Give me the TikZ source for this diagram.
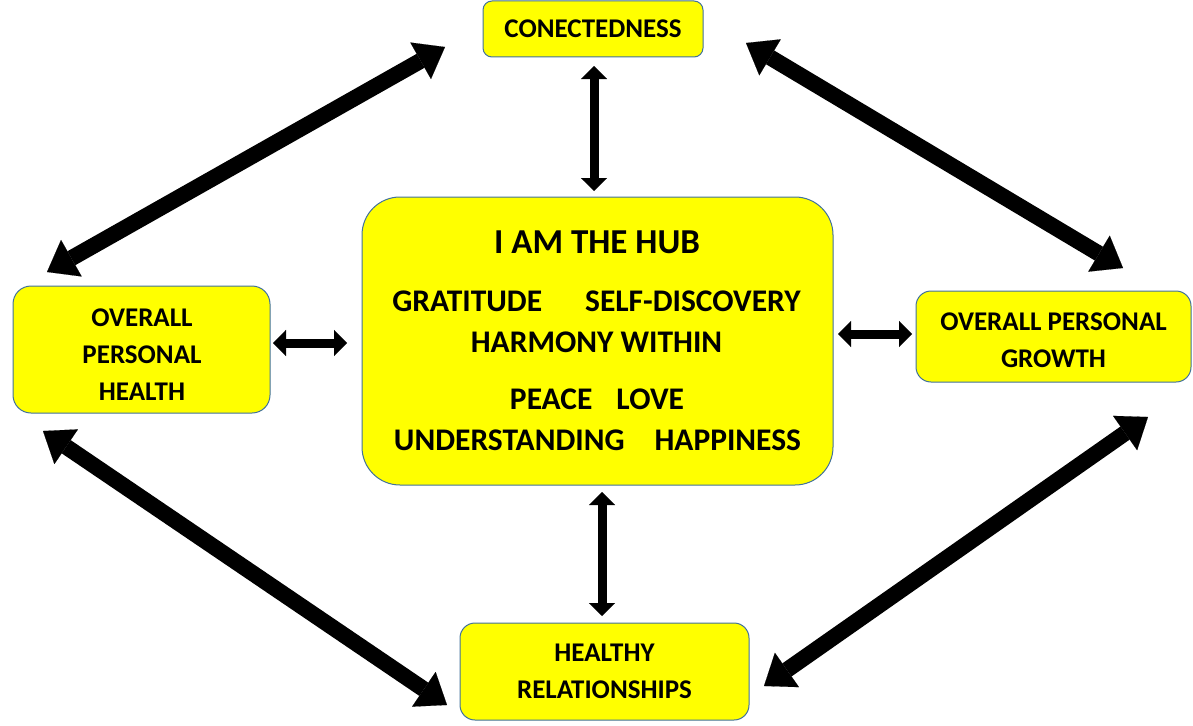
\documentclass[tikz,border=0pt]{standalone}
\usepackage{fontspec}
\setmainfont{Carlito}
\usetikzlibrary{arrows.meta}
\definecolor{boxyellow}{HTML}{FFFF00}
\definecolor{boxline}{HTML}{41719C}
\tikzset{
  box/.style={draw=boxline, line width=1pt, fill=boxyellow, rounded corners=#1, inner sep=0pt},
  box/.default=15pt,
  boxtext/.style={inner sep=0pt, align=center, font=\bfseries\fontsize{27}{37}\selectfont},
  bigarrow/.style={line width=16pt, {Triangle[length=28pt,width=42pt,line width=0.1pt]}-{Triangle[length=28pt,width=42pt,line width=0.1pt]}},
  smallarrow/.style={line width=9pt, {Triangle[length=13pt,width=26pt,line width=0.1pt]}-{Triangle[length=13pt,width=26pt,line width=0.1pt]}},
  hubtext/.style={inner sep=0pt, font=\bfseries\fontsize{31.5}{36}\selectfont},
  hubtitle/.style={inner sep=0pt, font=\bfseries\fontsize{35}{40}\selectfont}
}
\begin{document}
\begin{tikzpicture}[x=1pt,y=-1pt]
\useasboundingbox (0,0) rectangle (1193,725);
% boxes
\node[box=9pt, minimum width=220pt, minimum height=56pt] (conn) at (593,29) {};
\node[box=38pt, minimum width=471pt, minimum height=288pt] (hub) at (597.5,341) {};
\node[box=18pt, minimum width=257pt, minimum height=127pt] (health) at (141.5,349.5) {};
\node[box=15pt, minimum width=275pt, minimum height=91pt] (growth) at (1053.5,336.5) {};
\node[box=15pt, minimum width=289pt, minimum height=97pt] (rel) at (604.5,671.5) {};
% box texts
\node[boxtext] (conntext) at (593,29) {CONECTEDNESS};
\node[boxtext] (healthtext) at (142,355) {OVERALL\\PERSONAL\\HEALTH};
\node[boxtext] (growthtext) at (1053.5,340) {OVERALL PERSONAL\\GROWTH};
\node[boxtext] (reltext) at (604.5,671.5) {HEALTHY\\RELATIONSHIPS};
% hub texts
\node[hubtitle] (t1) at (597,242) {I AM THE HUB};
\node[hubtext] (t2) at (596.5,301) {GRATITUDE\hspace{43pt}SELF-DISCOVERY};
\node[hubtext] (t3) at (596.5,342) {HARMONY WITHIN};
\node[hubtext] (t4) at (597,399) {PEACE\hspace{24pt}LOVE};
\node[hubtext] (t5) at (597.5,440) {UNDERSTANDING\hspace{30pt}HAPPINESS};
% arrow end points
\coordinate (a1) at (47,272);   \coordinate (a2) at (445,47);
\coordinate (b1) at (746,43);   \coordinate (b2) at (1123,268);
\coordinate (c1) at (43,431);   \coordinate (c2) at (447,705);
\coordinate (d1) at (764,686);  \coordinate (d2) at (1148,417);
\coordinate (e1) at (594,66);   \coordinate (e2) at (594,191);
\coordinate (f1) at (602,492);  \coordinate (f2) at (602,616);
\coordinate (g1) at (273,343);  \coordinate (g2) at (347,343);
\coordinate (h1) at (838,334);  \coordinate (h2) at (912,334);
% arrows
\draw[bigarrow] (a1) -- (a2);
\draw[bigarrow] (b1) -- (b2);
\draw[bigarrow] (c1) -- (c2);
\draw[bigarrow] (d1) -- (d2);
\draw[smallarrow] (e1) -- (e2);
\draw[smallarrow] (f1) -- (f2);
\draw[smallarrow] (g1) -- (g2);
\draw[smallarrow] (h1) -- (h2);
\end{tikzpicture}
\end{document}
